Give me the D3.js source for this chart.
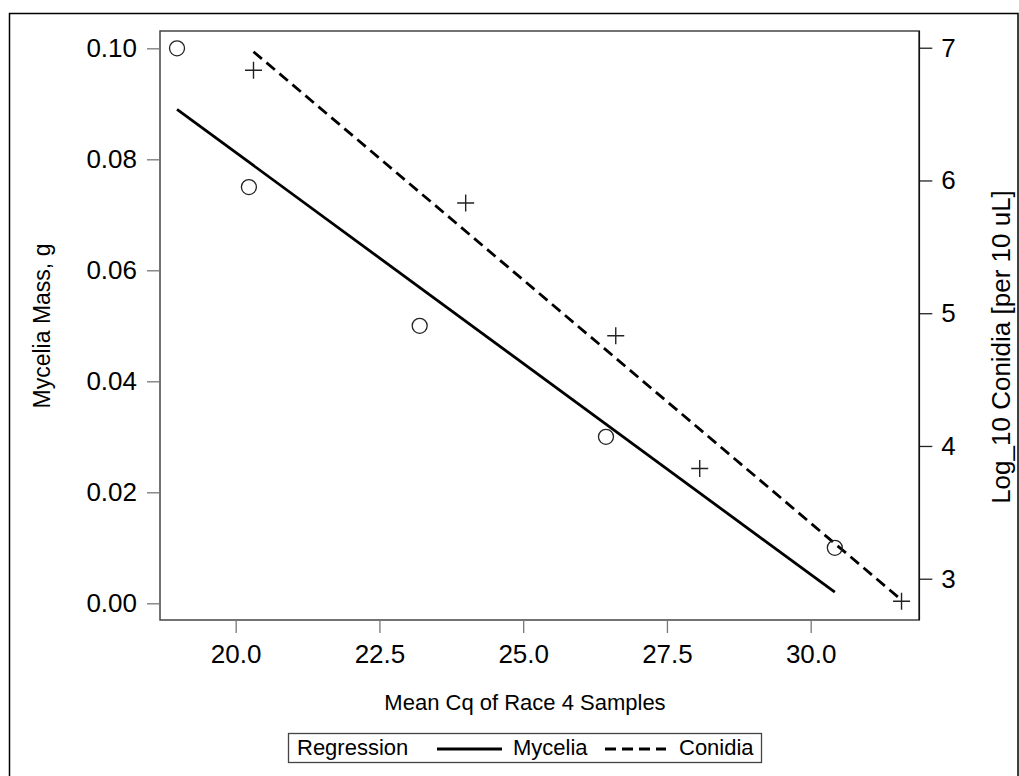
<!DOCTYPE html>
<html>
<head>
<meta charset="utf-8">
<script src="https://cdn.jsdelivr.net/npm/d3@7"></script>
<style>
  html, body { margin: 0; padding: 0; background: #fff; }
  svg { display: block; font-family: "Liberation Sans", Arial, sans-serif; }
</style>
</head>
<body>
<svg id="chart" width="1019" height="776"></svg>
<script>
// Mycelia mass versus mean Cq (left axis)
const myceliaCq   = [18.98, 20.23, 23.20, 26.44, 30.42];
const myceliaMass = [0.100, 0.075, 0.050, 0.030, 0.010];
// Log10 conidia versus mean Cq (right axis)
const conidiaCq   = [20.31, 24.00, 26.61, 28.07, 31.58];
const conidiaLog  = [6.83, 5.83, 4.83, 3.83, 2.83];

// fitted regression values at the ends of each Cq range
const myceliaFitMass = [0.0890, 0.0020];
const conidiaFitLog  = [6.97, 2.84];

const xTicks  = [20.0, 22.5, 25.0, 27.5, 30.0];
const yLTicks = [0.00, 0.02, 0.04, 0.06, 0.08, 0.10];
const yRTicks = [3, 4, 5, 6, 7];

const svg = d3.select("#chart");
const plot = { left: 160, right: 919.3, top: 31, bottom: 620 };

const x  = d3.scaleLinear().domain([18.684, 31.889]).range([plot.left, plot.right]);
const yL = d3.scaleLinear().domain([-0.00301, 0.10312]).range([plot.bottom, plot.top]);
const yR = d3.scaleLinear().domain([2.689, 7.126]).range([plot.bottom, plot.top]);

// outer frame (runs past the bottom edge)
svg.append("rect")
  .attr("x", 9.5).attr("y", 13.5).attr("width", 1008.5).attr("height", 772)
  .attr("fill", "none").attr("stroke", "#000").attr("stroke-width", 1.5);

// plot frame
svg.append("rect")
  .attr("x", plot.left).attr("y", plot.top)
  .attr("width", plot.right - plot.left).attr("height", plot.bottom - plot.top)
  .attr("fill", "none").attr("stroke", "#444").attr("stroke-width", 1.5);

function styleAxis(g, color) {
  g.select(".domain").remove();
  g.selectAll(".tick line").attr("stroke", color).attr("stroke-width", 1.3);
  g.selectAll(".tick text").attr("fill", "#000").attr("font-size", 26)
    .attr("font-family", "Liberation Sans, Arial, sans-serif");
}

// bottom axis
svg.append("g")
  .attr("transform", `translate(0,${plot.bottom})`)
  .call(d3.axisBottom(x).tickValues(xTicks).tickFormat(d3.format(".1f")).tickSize(13).tickPadding(12))
  .call(g => styleAxis(g, "#777"));

// left axis
svg.append("g")
  .attr("transform", `translate(${plot.left},0)`)
  .call(d3.axisLeft(yL).tickValues(yLTicks).tickFormat(d3.format(".2f")).tickSize(13).tickPadding(10))
  .call(g => styleAxis(g, "#777"));

// right axis
svg.append("g")
  .attr("transform", `translate(${plot.right},0)`)
  .call(d3.axisRight(yR).tickValues(yRTicks).tickFormat(d3.format("d")).tickSize(13).tickPadding(9))
  .call(g => styleAxis(g, "#222"));
svg.append("line")
  .attr("x1", plot.right).attr("x2", plot.right)
  .attr("y1", plot.top).attr("y2", plot.bottom)
  .attr("stroke", "#111").attr("stroke-width", 1.5);

// axis titles
svg.append("text")
  .attr("x", 525).attr("y", 710)
  .attr("text-anchor", "middle").attr("font-size", 22)
  .text("Mean Cq of Race 4 Samples");

svg.append("text")
  .attr("transform", "translate(50,326) rotate(-90)")
  .attr("text-anchor", "middle").attr("font-size", 23)
  .text("Mycelia Mass, g");

svg.append("text")
  .attr("transform", "translate(1010,347) rotate(-90)")
  .attr("text-anchor", "middle").attr("font-size", 26)
  .text("Log_10 Conidia [per 10 uL]");

// regression lines across each data range
const myFit = d3.extent(myceliaCq).map((c, i) => [c, myceliaFitMass[i]]);
const coFit = d3.extent(conidiaCq).map((c, i) => [c, conidiaFitLog[i]]);

svg.append("path")
  .attr("d", d3.line().x(d => x(d[0])).y(d => yL(d[1]))(myFit))
  .attr("fill", "none").attr("stroke", "#000").attr("stroke-width", 2.8);

svg.append("path")
  .attr("d", d3.line().x(d => x(d[0])).y(d => yR(d[1]))(coFit))
  .attr("fill", "none").attr("stroke", "#000").attr("stroke-width", 2.8)
  .attr("stroke-dasharray", "11,6");

// mycelia points: open circles
svg.append("g").selectAll("circle")
  .data(myceliaCq.map((c, i) => [c, myceliaMass[i]]))
  .join("circle")
  .attr("cx", d => x(d[0])).attr("cy", d => yL(d[1])).attr("r", 7.5)
  .attr("fill", "none").attr("stroke", "#222").attr("stroke-width", 1.3);

// conidia points: plus signs
svg.append("g").selectAll("path")
  .data(conidiaCq.map((c, i) => [c, conidiaLog[i]]))
  .join("path")
  .attr("d", d => {
    const cx = x(d[0]), cy = yR(d[1]), h = 8.5;
    return `M${cx - h},${cy}H${cx + h}M${cx},${cy - h}V${cy + h}`;
  })
  .attr("fill", "none").attr("stroke", "#222").attr("stroke-width", 1.4);

// legend
const lg = svg.append("g");
lg.append("rect")
  .attr("x", 288.5).attr("y", 733.5).attr("width", 473).attr("height", 29)
  .attr("fill", "#fff").attr("stroke", "#444").attr("stroke-width", 1.3);
lg.append("text").attr("x", 297).attr("y", 755).attr("font-size", 22).text("Regression");
lg.append("line").attr("x1", 437).attr("x2", 502).attr("y1", 749).attr("y2", 749)
  .attr("stroke", "#000").attr("stroke-width", 2.8);
lg.append("text").attr("x", 513).attr("y", 755).attr("font-size", 22).text("Mycelia");
lg.append("line").attr("x1", 605).attr("x2", 666).attr("y1", 749).attr("y2", 749)
  .attr("stroke", "#000").attr("stroke-width", 2.8).attr("stroke-dasharray", "11,6");
lg.append("text").attr("x", 679).attr("y", 755).attr("font-size", 22).text("Conidia");
</script>
</body>
</html>
